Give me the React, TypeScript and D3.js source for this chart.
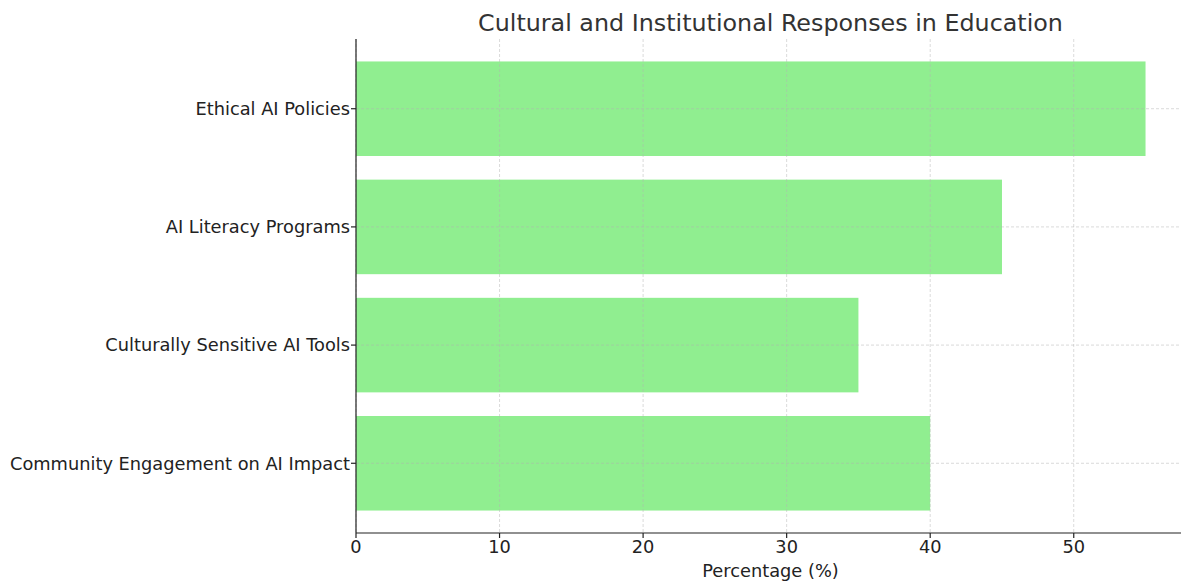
import React from "react";
import * as d3 from "d3";

const categories = [
  "Community Engagement on AI Impact",
  "Culturally Sensitive AI Tools",
  "AI Literacy Programs",
  "Ethical AI Policies",
];
const values = [40, 35, 45, 55];
const xTicks = [0, 10, 20, 30, 40, 50];
const title = "Cultural and Institutional Responses in Education";
const xLabel = "Percentage (%)";

export default function App() {
  const W = 1181, H = 583;
  const left = 356, right = 1185, top = 39, bottom = 533;
  const x = d3.scaleLinear().domain([0, 57.75]).range([left, right]);
  const y = d3.scaleLinear().domain([-0.59, 3.59]).range([bottom, top]);
  const bh = y(0) - y(0.8);
  const font = "DejaVu Sans, sans-serif";
  return (
    <svg width={W} height={H} style={{ position: "absolute", left: 0, top: 0 }} fontFamily={font}>
      <rect width={W} height={H} fill="#fff" />
      {values.map((v, i) => (
        <rect key={i} x={x(0)} y={y(i) - bh / 2} width={x(v) - x(0)} height={bh} fill="#90EE90" />
      ))}
      {xTicks.map((t) => (
        <line key={"gx" + t} x1={x(t)} x2={x(t)} y1={top} y2={bottom} stroke="#b0b0b0" strokeOpacity={0.6} strokeDasharray="3,2" strokeWidth={0.8} />
      ))}
      {categories.map((c, i) => (
        <line key={"gy" + i} x1={left} x2={right} y1={y(i)} y2={y(i)} stroke="#b0b0b0" strokeOpacity={0.6} strokeDasharray="3,2" strokeWidth={0.8} />
      ))}
      <line x1={left} x2={left} y1={top} y2={bottom} stroke="#222" strokeWidth={1.2} />
      <line x1={left} x2={right} y1={bottom} y2={bottom} stroke="#222" strokeWidth={1.2} />
      {xTicks.map((t) => (
        <g key={"tx" + t}>
          <line x1={x(t)} x2={x(t)} y1={bottom} y2={bottom + 5} stroke="#222" strokeWidth={1.2} />
          <text x={x(t)} y={bottom + 20} textAnchor="middle" fontSize={17.8} fill="#222">{t}</text>
        </g>
      ))}
      {categories.map((c, i) => (
        <g key={"ty" + i}>
          <line x1={left - 5} x2={left} y1={y(i)} y2={y(i)} stroke="#222" strokeWidth={1.2} />
          <text x={left - 6} y={y(i)} dy="0.35em" textAnchor="end" fontSize={17.8} fill="#222">{c}</text>
        </g>
      ))}
      <text x={(left + right) / 2} y={577} textAnchor="middle" fontSize={17.8} fill="#222">{xLabel}</text>
      <text x={(left + right) / 2} y={31} textAnchor="middle" fontSize={23.8} fill="#333">{title}</text>
    </svg>
  );
}
